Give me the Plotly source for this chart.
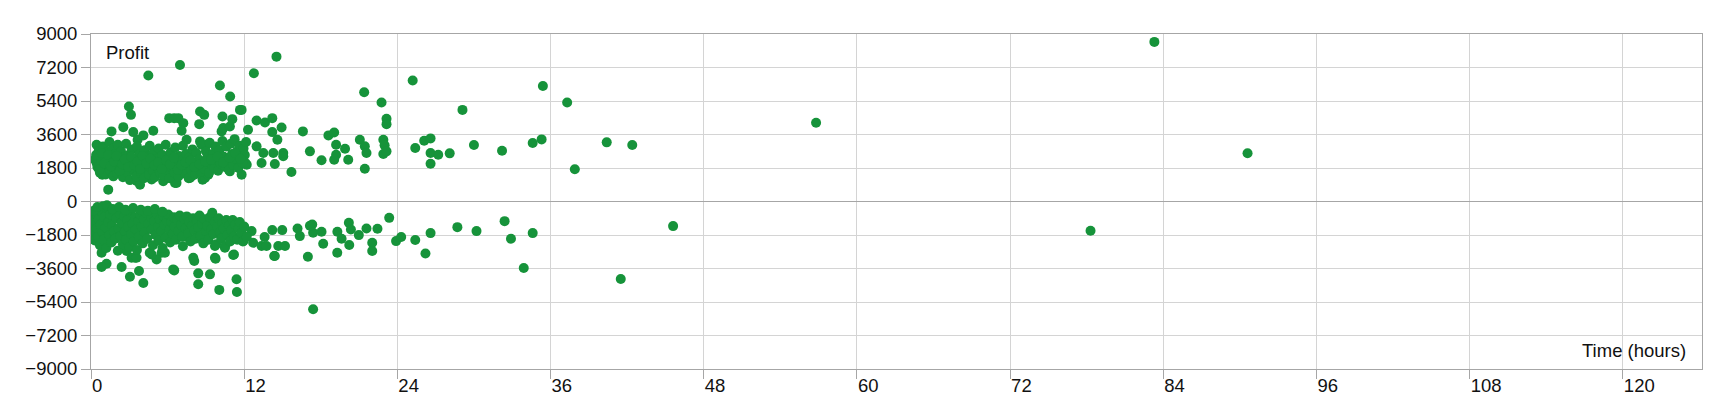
import plotly.graph_objects as go

# winning trades: duration in hours, profit
win_hours = [
    0.44, 1.61, 2.53, 2.97, 3.13, 3.31, 3.65, 4.1, 4.49, 4.88, 6.13, 6.52, 6.84, 6.97, 7.23, 7.1,
    7.49, 8.48, 8.54, 8.54, 8.87, 9.05, 10.1, 10.23, 10.3, 10.36, 10.88, 10.9, 11.07, 11.67, 11.8,
    12.2, 9.05, 12.3, 12.76, 14.53, 12.97, 13.63, 14.2, 14.93, 14.2, 14.6, 16.6, 18.6, 19.05, 19.2,
    19.9, 17.15, 12.97, 13.5, 14.28, 15.06, 15.06, 19.2, 19.05, 18.06, 20.15, 21.06, 21.45, 21.58,
    21.4, 22.76, 23.15, 23.15, 22.9, 23.0, 22.9, 23.15, 21.45, 13.36, 14.4, 15.7, 25.2, 26.1, 26.6,
    25.4, 26.6, 27.2, 28.1, 26.6, 29.1, 30.0, 32.2, 34.6, 35.3, 35.4, 37.3, 37.9, 40.4, 42.4, 56.8,
    68.3 + 15.0, 90.6, 1.35, 6.58, 7.75, 8.74,
    3.57, 3.84, 4.75, 5.66, 6.7, 7.88, 8.93, 9.19, 10.88, 11.8, 12.1, 0.88, 0.44, 0.7,
    0.3, 0.5, 0.6, 0.7, 0.8, 0.95, 1.0, 1.1, 1.15, 1.25, 1.3, 1.45, 1.5, 1.6, 1.7, 1.75, 1.85, 1.9,
    2.05, 2.1, 2.2, 2.3, 2.35, 2.5, 2.55, 2.7, 2.75, 2.85, 2.95, 3.05, 3.1, 3.2, 3.35, 3.45, 3.55,
    3.6, 3.7, 3.8, 3.95, 4.0, 4.15, 4.2, 4.3, 4.45, 4.55, 4.6, 4.7, 4.85, 4.9, 5.0, 5.1, 5.2, 5.3,
    5.4, 5.5, 5.6, 5.7, 5.75, 5.85, 5.95, 6.05, 6.15, 6.25, 6.3, 6.45, 6.55, 6.6, 6.75, 6.85, 6.9,
    7.05, 7.15, 7.2, 7.35, 7.45, 7.55, 7.65, 7.7, 7.85, 7.95, 8.05, 8.15, 8.25, 8.35, 8.45, 8.6,
    8.65, 8.8, 8.9, 9.0, 9.1, 9.25, 9.3, 9.45, 9.55, 9.65, 9.75, 9.85, 9.95, 10.05, 10.15, 10.3,
    10.4, 10.5, 10.6, 10.7, 10.8, 10.95, 11.05, 11.15, 11.25, 11.35, 11.45, 11.55, 11.65, 11.75,
    11.85, 11.95, 12.05, 12.15,
    0.4, 0.65, 0.85, 1.05, 1.35, 1.55, 1.8, 2.0, 2.25, 2.45, 2.65, 2.9, 3.15, 3.4, 3.65, 3.85,
    4.05, 4.35, 4.65, 4.95, 5.25, 5.55, 5.9, 6.2, 6.5, 6.8, 7.1, 7.4, 7.8, 8.1, 8.5, 8.95, 9.4,
    9.9, 10.35, 10.85, 11.3, 11.7,
]
win_profit = [
    3048, 3766, 3996, 5105, 4655, 3728, 3316, 3552, 6766, 3798, 4478, 4478, 4478, 7334, 4210, 3798,
    3316, 4157, 4837, 3230, 4655, 3048, 6230, 3766, 4570, 3943, 4034, 5641, 4425, 4923, 4923,
    1977, 1532, 3852, 6889, 7784, 4355, 4248, 4478, 3980, 3728, 3316, 3766, 3552, 3712, 3048,
    2834, 2695, 2962, 2603, 2603, 2603, 2427, 2512, 2245, 2213, 2245, 3316, 2962, 2603,
    5871, 5319, 4441, 4157, 3316, 3016, 2550, 2695, 1763, 2068, 2014, 1586, 6498, 3262, 3391,
    2871, 2603, 2512, 2587, 2030, 4923, 3032, 2727, 3139, 3337, 6209, 5319, 1730, 3177, 3032, 4235,
    8575, 2592, 637, 997, 1264, 1173,
    1100, 900, 1180, 1090, 1000, 1360, 1264, 1443, 1620, 1443, 2068, 1443, 2068, 2513,
    2250, 1850, 2700, 1550, 2150, 2950, 1750, 2400, 1450, 2650, 2000, 3200, 1650, 2300, 2850, 1350, 1950, 2550,
    1500, 3050, 2150, 1750, 2700, 1300, 2350, 1900, 3100, 1550, 2500, 1150, 2050, 2800, 1700, 2250, 1350,
    2950, 1900, 2550, 1500, 2150, 1250, 2750, 1800, 2400, 1450, 3000, 2000, 1650, 2600, 1300, 2250, 1850, 2850,
    1550, 2100, 2500, 1400, 1950, 3050, 1700, 2300, 1250, 2650, 1850, 2100, 1550, 2900, 2000, 1350, 2450,
    1750, 2200, 3000, 1500, 2550, 1950, 1250, 2350, 1700, 2800, 2050, 1450, 2600, 1900, 2250, 1600,
    3050, 2100, 1750, 2700, 2350, 1550, 3150, 2000, 2550, 1800, 2950, 2250, 1650, 2750, 2050, 3250,
    2400, 1850, 2950, 2200, 1700, 3100, 2550, 1950, 3350, 2300, 2700, 1800, 3000, 2450,
    2100, 2850, 2500, 3200,
    2500, 1700, 2600, 2050, 2500, 1900, 2150, 2450, 1650, 2000, 2250, 1850, 2400, 1950, 2150, 1750,
    2450, 2050, 2300, 1950, 2100, 1750, 2200, 2000, 2350, 1700, 1950, 2100, 2200, 1850, 2000, 2150, 2250,
    2400, 2100, 2350, 2600, 2300,
]

# losing trades: duration in hours, profit
loss_hours = [
    0.83, 1.22, 0.83, 2.4, 3.05, 3.76, 4.1, 6.52, 5.53, 5.14, 3.45, 2.79, 3.18, 3.57, 4.75, 5.79,
    8.09, 8.4, 8.4, 9.32, 9.76, 10.05, 11.4, 11.43, 11.2, 7.88, 8.01, 9.71, 11.14, 6.44, 9.71,
    10.49, 11.93, 7.75, 0.57, 14.35,
    12.58, 12.7, 13.6, 13.36, 13.75, 14.2, 14.98, 14.67, 15.2, 14.4, 16.18, 16.36, 17.33, 17.4,
    17.15, 18.06, 18.19, 16.99, 17.4, 19.3, 19.63, 19.29, 20.2, 20.36, 20.23, 20.98, 21.58, 22.44,
    22.03, 22.03, 23.36, 23.9, 24.3, 25.4, 26.2, 26.6, 28.7, 30.2, 32.4, 32.9, 34.6, 33.9, 41.5,
    45.6, 78.3,
    0.05, 0.1, 0.15, 0.25, 0.3, 0.4, 0.45, 0.55, 0.6, 0.7, 0.75, 0.85, 0.9, 1.0, 1.05, 1.15, 1.2,
    1.3, 1.35, 1.45, 1.5, 1.6, 1.65, 1.75, 1.8, 1.9, 2.0, 2.1, 2.15, 2.25, 2.3, 2.4, 2.5, 2.6,
    2.65, 2.75, 2.85, 2.9, 3.0, 3.1, 3.15, 3.25, 3.35, 3.45, 3.5, 3.6, 3.7, 3.75, 3.85, 3.95, 4.05,
    4.15, 4.2, 4.3, 4.4, 4.5, 4.6, 4.7, 4.75, 4.85, 4.95, 5.05, 5.15, 5.25, 5.3, 5.4, 5.5, 5.6,
    5.7, 5.75, 5.85, 5.95, 6.05, 6.15, 6.2, 6.3, 6.4, 6.5, 6.55, 6.65, 6.75, 6.85, 6.95, 7.05,
    7.15, 7.2, 7.3, 7.4, 7.5, 7.6, 7.7, 7.8, 7.9, 8.0, 8.1, 8.2, 8.3, 8.4, 8.5, 8.6, 8.7, 8.8,
    8.9, 9.0, 9.1, 9.2, 9.3, 9.4, 9.5, 9.6, 9.7, 9.8, 9.9, 10.0, 10.1, 10.2, 10.3, 10.4, 10.5,
    10.6, 10.7, 10.8, 10.9, 11.0, 11.1, 11.2, 11.3, 11.45, 11.55, 11.65, 11.8, 11.9, 12.0, 12.2,
    0.2, 0.5, 0.95, 1.25, 1.7, 2.2, 2.7, 3.3, 3.9, 4.45, 5.0, 5.6,
]
loss_profit = [
    -2753, -3343, -3520, -3520, -4039, -3734, -4377, -3702, -2753, -3112, -3021, -2662, -3021, -3021, -2845, -2753,
    -3200, -3860, -4450, -3915, -3075, -4750, -4180, -4860, -2845, -2073, -3021, -3021, -2877, -3648, -2395,
    -2486, -2127, -2041, -1950, -2930,
    -1591, -2218, -1912, -2395, -2395, -1537, -1537, -2395, -2395, -2930, -1452, -1859, -1237, -1682,
    -1300, -1629, -2271, -2968, -5791, -1629, -2003, -2753, -1146, -1505, -2341, -1805, -1452, -1468,
    -2218, -2662, -879, -2127, -1912, -2073, -2791, -1698, -1377, -1591, -1055, -2003, -1698, -3573, -4163,
    -1323, -1572,
    -1300, -900, -1700, -1150, -2100, -650, -1450, -1900, -950, -2350, -1250, -600, -1650, -2050, -850, -1400, -2500,
    -350, -1100, -1800, -700, -2200, -1300, -500, -1600, -2000, -900, -2650, -1450, -650, -1850, -1150, -2300, -800,
    -1600, -2050, -1000, -1350, -2450, -550, -1750, -1200, -2150, -850, -1500, -2600, -1050, -1900, -700, -1350, -2250,
    -950, -1650, -600, -2000, -1200, -2750, -850, -1500, -2350, -1050, -1800, -650, -1350, -2100, -950, -1600, -2500,
    -800, -1250, -1950, -1050, -700, -1500, -2200, -1100, -1750, -850, -1350, -2050, -1000, -1600, -750, -1250,
    -1900, -2400, -950, -1450, -800, -1700, -1100, -2150, -1300, -900, -1550, -2000, -1050, -1400, -750, -1850, -1200, -2250,
    -950, -1600, -1300, -2050, -850, -1500, -600, -1750, -1100, -2300, -1350, -900, -1650, -2000, -1150, -1450, -2400,
    -1000, -1800, -1300, -2150, -1550, -1000, -1900, -1250, -2050, -1450, -1100, -1700, -2150, -1350, -1900,
    -500, -300, -250, -200, -400, -300, -450, -350, -450, -500, -400, -550,
]

hours = win_hours + loss_hours
profit = win_profit + loss_profit

x_ticks = [0, 12, 24, 36, 48, 60, 72, 84, 96, 108, 120]
y_ticks = [-9000, -7200, -5400, -3600, -1800, 0, 1800, 3600, 5400, 7200, 9000]

GREEN = "#16933a"
AXIS = "#a6a6a6"
GRID = "#d4d4d4"
FONT = "Liberation Sans, Arial, sans-serif"

fig = go.Figure(
    go.Scatter(
        x=hours,
        y=profit,
        mode="markers",
        marker=dict(size=10, color=GREEN, symbol="circle", line=dict(width=0)),
        hoverinfo="x+y",
        showlegend=False,
    )
)

fig.update_xaxes(
    range=[0, 126.2],
    tickvals=x_ticks,
    ticks="outside",
    ticklen=9,
    tickcolor=AXIS,
    ticklabelposition="outside right",
    showline=True,
    linecolor=AXIS,
    mirror=True,
    showgrid=True,
    gridcolor=GRID,
    zeroline=False,
    tickfont=dict(family=FONT, size=18.5, color="#111"),
)
fig.update_yaxes(
    range=[-9000, 9000],
    tickvals=y_ticks,
    ticks="outside",
    ticklen=9,
    tickcolor=AXIS,
    showline=True,
    linecolor=AXIS,
    mirror=True,
    showgrid=True,
    gridcolor=GRID,
    zeroline=True,
    zerolinecolor=AXIS,
    zerolinewidth=1,
    tickfont=dict(family=FONT, size=18.5, color="#111"),
)

fig.add_annotation(
    text="Profit", xref="paper", yref="paper", x=0.0079, y=0.9457,
    xanchor="left", yanchor="middle", showarrow=False,
    font=dict(family=FONT, size=18.5, color="#111"),
)
fig.add_annotation(
    text="Time (hours)", xref="paper", yref="paper", x=0.9913, y=0.0564,
    xanchor="right", yanchor="middle", showarrow=False,
    font=dict(family=FONT, size=18.5, color="#111"),
)

fig.update_layout(
    width=1720,
    height=400,
    margin=dict(l=83, r=26, t=26, b=37),
    plot_bgcolor="white",
    paper_bgcolor="white",
)

fig.write_html("out.html")
